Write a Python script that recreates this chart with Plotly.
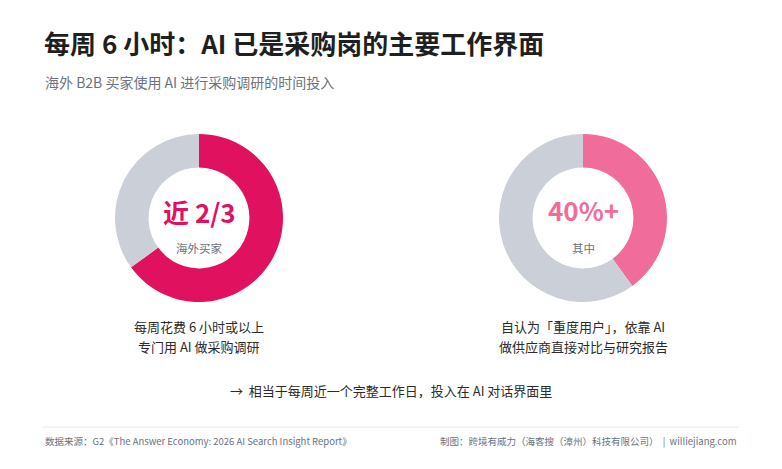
import plotly.graph_objects as go

W, H = 782, 469

# Data
left_labels = ["每周 6 小时以上专门用 AI 做采购调研", "其他"]
left_values = [65, 35]
right_labels = ["自认为重度用户", "其他"]
right_values = [40, 60]

title_text = "每周 6 小时：AI 已是采购岗的主要工作界面"
subtitle_text = "海外 B2B 买家使用 AI 进行采购调研的时间投入"
left_big = "近 2/3"
left_small = "海外买家"
right_big = "40%+"
right_small = "其中"
left_caption = ["每周花费 6 小时或以上", "专门用 AI 做采购调研"]
right_caption = ["自认为「重度用户」，依靠 AI", "做供应商直接对比与研究报告"]
note_text = "→  相当于每周近一个完整工作日，投入在 AI 对话界面里"
source_text = "数据来源：G2《The Answer Economy: 2026 AI Search Insight Report》"
credit_text = "制图：跨境有威力（海客搜（漳州）科技有限公司）  |  williejiang.com"

FONT = "Noto Sans CJK SC, Noto Sans, sans-serif"
PINK = "#E0115F"
LPINK = "#F06C9B"
GRAY = "#CBD0D8"
DARK = "#1f1f1f"
MUTED = "#6b7280"


def px_x(x):
    return x / W


def px_y(y):
    return 1 - y / H


def domain(cx, cy, r):
    return dict(x=[px_x(cx - r), px_x(cx + r)], y=[px_y(cy + r), px_y(cy - r)])


fig = go.Figure()
fig.add_trace(go.Pie(
    labels=left_labels, values=left_values, hole=0.6, sort=False,
    direction="clockwise", rotation=0, textinfo="none", hoverinfo="label+value",
    marker=dict(colors=[PINK, GRAY], line=dict(width=0)),
    domain=domain(199, 218, 84), showlegend=False,
))
fig.add_trace(go.Pie(
    labels=right_labels, values=right_values, hole=0.6, sort=False,
    direction="clockwise", rotation=0, textinfo="none", hoverinfo="label+value",
    marker=dict(colors=[LPINK, GRAY], line=dict(width=0)),
    domain=domain(583, 218, 84), showlegend=False,
))

ann = []


def txt(x, y, text, size, color, bold=False, xanchor="left"):
    ann.append(dict(
        x=px_x(x), y=px_y(y), xref="paper", yref="paper", text=f"<b>{text}</b>" if bold else text,
        showarrow=False, xanchor=xanchor, yanchor="middle",
        font=dict(family=FONT, size=size, color=color),
    ))


txt(42, 43, title_text, 26, DARK, bold=True)
txt(43, 82, subtitle_text, 14, MUTED)
txt(199, 211, left_big, 26, PINK, bold=True, xanchor="center")
txt(199, 248, left_small, 11.5, MUTED, xanchor="center")
txt(583, 210, right_big, 26, LPINK, bold=True, xanchor="center")
txt(583, 248, right_small, 11.5, MUTED, xanchor="center")
txt(199, 326, left_caption[0], 13, "#2b2b2b", xanchor="center")
txt(199, 346, left_caption[1], 13, "#2b2b2b", xanchor="center")
txt(583, 326, right_caption[0], 13, "#2b2b2b", xanchor="center")
txt(583, 346, right_caption[1], 13, "#2b2b2b", xanchor="center")
txt(391, 390, note_text, 13, "#2b2b2b", xanchor="center")
txt(43, 441, source_text, 9.5, MUTED)
txt(739, 441, credit_text, 9.5, MUTED, xanchor="right")

fig.update_layout(
    width=W, height=H,
    margin=dict(l=0, r=0, t=0, b=0),
    paper_bgcolor="white", plot_bgcolor="white",
    annotations=ann,
    shapes=[dict(type="line", xref="paper", yref="paper",
                 x0=px_x(43), x1=px_x(739), y0=px_y(427), y1=px_y(427),
                 line=dict(color="#e8e8ec", width=1))],
    font=dict(family=FONT),
)

fig.write_html("out.html", config={"displayModeBar": False},
               post_script="document.body.style.margin='0';")
